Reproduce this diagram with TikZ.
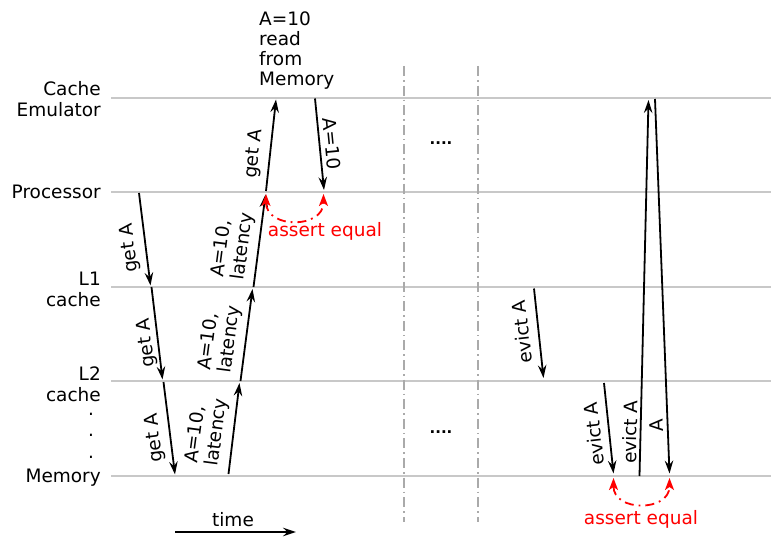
\documentclass[tikz,border=0pt]{standalone}
\usepackage{fontspec}
\setmainfont{DejaVu Sans}
\usetikzlibrary{arrows.meta}
\definecolor{laneGray}{RGB}{200,200,200}
\definecolor{sepGray}{RGB}{170,170,170}
\definecolor{assertRed}{RGB}{255,0,0}
\begin{document}
\begin{tikzpicture}[x=1pt,y=-1pt,
  font=\fontsize{18.5}{21}\selectfont,
  lane/.style={draw=laneGray, line width=2pt},
  lanelbl/.style={inner sep=0pt, align=right},
  msg/.style={draw=black, line width=1.8pt, -{Stealth[length=13pt,width=8.5pt,inset=4.5pt]}},
  msglbl/.style={inner sep=0pt, align=left},
  sepline/.style={draw=sepGray, line width=1.6pt, dash pattern=on 10pt off 4pt on 1.6pt off 4pt},
  assertarc/.style={draw=assertRed, line width=1.8pt, dash pattern=on 9pt off 5pt on 1.8pt off 5pt,
     {Stealth[length=12pt,width=9pt,inset=3pt]}-{Stealth[length=12pt,width=9pt,inset=3pt]}},
  assertlbl/.style={inner sep=0pt, text=assertRed},
  dotslbl/.style={inner sep=0pt, font=\fontsize{15}{16}\bfseries}
]
\useasboundingbox (0,0) rectangle (771,537);

% lanes
\coordinate (ceL) at (111,98);  \coordinate (ceR) at (771,98);
\coordinate (prL) at (111,192); \coordinate (prR) at (771,192);
\coordinate (l1L) at (111,287); \coordinate (l1R) at (771,287);
\coordinate (l2L) at (111,381); \coordinate (l2R) at (771,381);
\coordinate (meL) at (111,476); \coordinate (meR) at (771,476);
\draw[lane] (ceL) -- (ceR);
\draw[lane] (prL) -- (prR);
\draw[lane] (l1L) -- (l1R);
\draw[lane] (l2L) -- (l2R);
\draw[lane] (meL) -- (meR);

\node[lanelbl, anchor=east] (ceLbl) at (101,99) {Cache\\Emulator};
\node[lanelbl, anchor=base east] (prLbl) at (101,199) {Processor};
\node[lanelbl, anchor=east] (l1Lbl) at (101,289) {L1\\cache};
\node[lanelbl, anchor=east] (l2Lbl) at (101,384) {L2\\cache};
\node[lanelbl, anchor=base east] (meLbl) at (101,482) {Memory};
\node[inner sep=0pt, anchor=base] (dA) at (91,415) {.};
\node[inner sep=0pt, anchor=base] (dB) at (91,436) {.};
\node[inner sep=0pt, anchor=base] (dC) at (91,458) {.};

% separators
\coordinate (s1T) at (404,66); \coordinate (s1B) at (404,522);
\coordinate (s2T) at (478,66); \coordinate (s2B) at (478,522);
\draw[sepline] (s1T) -- (s1B);
\draw[sepline] (s2T) -- (s2B);
\node[dotslbl, anchor=base] (dotsTop) at (441,145) {....};
\node[dotslbl, anchor=base] (dotsBot) at (441,433) {....};

% request chain
\coordinate (a1s) at (139,193); \coordinate (a1e) at (150.5,285.5);
\coordinate (a2s) at (151.5,287); \coordinate (a2e) at (162.5,379.5);
\coordinate (a3s) at (163.5,382); \coordinate (a3e) at (175,474.5);
\draw[msg] (a1s) -- (a1e);
\draw[msg] (a2s) -- (a2e);
\draw[msg] (a3s) -- (a3e);
\node[msglbl, rotate=97] (g1) at (130,248) {get A};
\node[msglbl, rotate=97] (g2) at (147,343) {get A};
\node[msglbl, rotate=97] (g3) at (155,438) {get A};

% response chain
\coordinate (r1s) at (228.5,474); \coordinate (r1e) at (239.5,383);
\coordinate (r2s) at (240.5,381); \coordinate (r2e) at (252.5,289);
\coordinate (r3s) at (253.5,287); \coordinate (r3e) at (265.5,194.5);
\draw[msg] (r1s) -- (r1e);
\draw[msg] (r2s) -- (r2e);
\draw[msg] (r3s) -- (r3e);
\node[msglbl, rotate=82.5] (v1) at (207,431) {A=10,\\latency};
\node[msglbl, rotate=82.5] (v2) at (220,338) {A=10,\\latency};
\node[msglbl, rotate=82.5] (v3) at (233,245) {A=10,\\latency};

% processor <-> emulator
\coordinate (e1s) at (266,191); \coordinate (e1e) at (276,99.5);
\coordinate (e2s) at (315,98.5); \coordinate (e2e) at (324,190);
\draw[msg] (e1s) -- (e1e);
\draw[msg] (e2s) -- (e2e);
\node[msglbl, rotate=83.7] (ge) at (254,154) {get A};
\node[msglbl, rotate=-84.4] (ae) at (332,144) {A=10};
\node[inner sep=0pt, align=left, anchor=north west, font=\fontsize{18.5}{20}\selectfont] (readLbl) at (259,12) {A=10\\read\\from\\Memory};

% assert equal (top)
\coordinate (t1) at (266,194); \coordinate (t2) at (323.5,194);
\draw[assertarc] (t1) .. controls (266,229) and (323.5,229) .. (t2);
\node[assertlbl] (aeTop) at (325,231) {assert equal};

% evictions
\coordinate (v9s) at (534,288.5); \coordinate (v9e) at (543.5,378);
\coordinate (v10s) at (604,383); \coordinate (v10e) at (613.5,473.5);
\coordinate (v11s) at (639.5,476); \coordinate (v11e) at (648.5,100);
\coordinate (v12s) at (655,99); \coordinate (v12e) at (669.5,473.5);
\draw[msg] (v9s) -- (v9e);
\draw[msg] (v10s) -- (v10e);
\draw[msg] (v11s) -- (v11e);
\draw[msg] (v12s) -- (v12e);
\node[msglbl, rotate=96.4] (ev1) at (522,332) {evict A};
\node[msglbl, rotate=96.4] (ev2) at (594,434) {evict A};
\node[msglbl, rotate=88.6] (ev3) at (630,432) {evict A};
\node[msglbl, rotate=92.3] (aA) at (657,425) {A};

% assert equal (bottom)
\coordinate (b1) at (613.5,478); \coordinate (b2) at (669.5,478);
\draw[assertarc] (b1) .. controls (613.5,512) and (669.5,512) .. (b2);
\node[assertlbl] (aeBot) at (641,519) {assert equal};

% time
\coordinate (ts) at (175,532); \coordinate (te) at (296,532);
\draw[msg] (ts) -- (te);
\node[inner sep=0pt] (timeLbl) at (233,520) {time};
\end{tikzpicture}
\end{document}
